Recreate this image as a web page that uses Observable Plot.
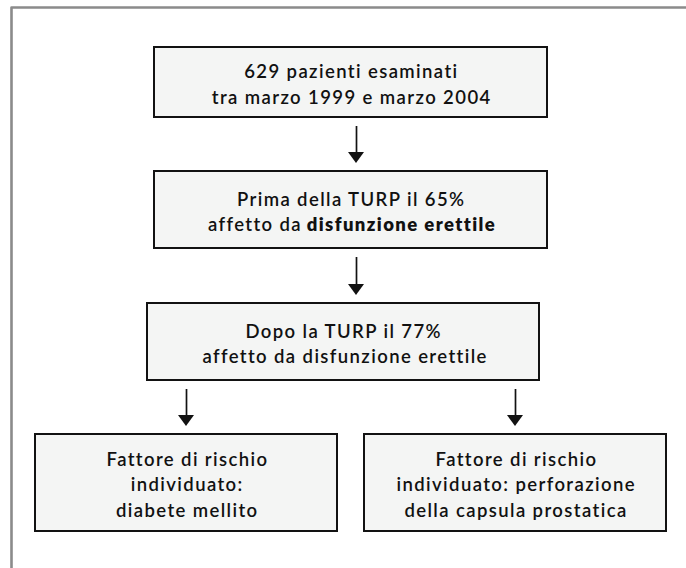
<!DOCTYPE html>
<html>
<head>
<meta charset="utf-8">
<script src="https://cdn.jsdelivr.net/npm/d3@7"></script>
<script src="https://cdn.jsdelivr.net/npm/@observablehq/plot@0.6"></script>
<style>
  html, body { margin: 0; padding: 0; background: #ffffff; }
  #chart svg { display: block; }
</style>
</head>
<body>
<div id="chart"></div>
<script>
// ---------------- DATA ----------------
// Flow-chart nodes: each line is a list of [text, isBold] segments
const nodeIds = ["screening", "beforeTURP", "afterTURP", "diabetes", "perforation"];
const nodeLines = [
  [[["629 pazienti esaminati", false]], [["tra marzo 1999 e marzo 2004", false]]],
  [[["Prima della TURP il 65%", false]], [["affetto da ", false], ["disfunzione erettile", true]]],
  [[["Dopo la TURP il 77%", false]], [["affetto da disfunzione erettile", false]]],
  [[["Fattore di rischio", false]], [["individuato:", false]], [["diabete mellito", false]]],
  [[["Fattore di rischio", false]], [["individuato: perforazione", false]], [["della capsula prostatica", false]]]
];
// Edges of the flow (from node index -> to node index)
const edgeFrom = [0, 1, 2, 2];
const edgeTo   = [1, 2, 3, 4];

// ---------------- LAYOUT (geometry & style, kept apart from data) ----------------
const W = 686, H = 568;
const boxX1 = [154, 154, 147, 35, 364];
const boxX2 = [547, 547, 539, 337, 666];
const boxY1 = [47, 171, 303, 434, 434];
const boxY2 = [117, 248, 380, 531, 531];
const arrowX = [356, 356, 186, 515];
const gapTop = 9, gapBottom = 8, headH = 11, headW = 16;
const frameLeft = 11, frameTop = 7;
const lineStep = 25.3, textShift = 2.5;
const fontFamily = "Lato, 'Open Sans', sans-serif";
const fontSize = 18.5;
const letterSp = 1.4;
const normalWeight = 600, boldWeight = 800;
const textColor = "#111111";

// ---------------- BUILD MARK DATA ----------------
const boxes = nodeIds.map((id, i) => ({id, x1: boxX1[i], x2: boxX2[i], y1: boxY1[i], y2: boxY2[i]}));

const ctx = document.createElement("canvas").getContext("2d");
function measure(str, bold) {
  ctx.font = `${bold ? boldWeight : normalWeight} ${fontSize}px ${fontFamily}`;
  return ctx.measureText(str).width + letterSp * str.length;
}

const segments = [];
nodeLines.forEach((lines, i) => {
  const cx = (boxX1[i] + boxX2[i]) / 2;
  const cy = (boxY1[i] + boxY2[i]) / 2 + textShift;
  const n = lines.length;
  lines.forEach((segs, j) => {
    const widths = segs.map(([t, b]) => measure(t, b));
    const total = d3.sum(widths) - letterSp;
    let x = cx - total / 2;
    const y = cy + (j - (n - 1) / 2) * lineStep;
    segs.forEach(([t, b], k) => {
      segments.push({text: t, bold: b, x, y});
      x += widths[k];
    });
  });
});

const shafts = edgeFrom.map((f, e) => ({
  x: arrowX[e],
  y1: boxY2[f] + gapTop,
  y2: boxY1[edgeTo[e]] - gapBottom - headH + 1
}));
const heads = [];
edgeFrom.forEach((f, e) => {
  const tip = boxY1[edgeTo[e]] - gapBottom;
  const ax = arrowX[e];
  heads.push({k: e, x: ax - headW / 2, y1: tip - headH, y2: tip - headH});
  heads.push({k: e, x: ax, y1: tip - headH, y2: tip});
  heads.push({k: e, x: ax + headW / 2, y1: tip - headH, y2: tip - headH});
});

const frame = [
  {x: frameLeft, y: H + 5},
  {x: frameLeft, y: frameTop},
  {x: W + 5, y: frameTop}
];

// ---------------- PLOT ----------------
const chart = Plot.plot({
  width: W,
  height: H,
  margin: 0,
  x: {domain: [0, W], range: [0, W], axis: null},
  y: {domain: [0, H], range: [0, H], axis: null},
  style: {background: "#ffffff", fontFamily, letterSpacing: `${letterSp}px`, overflow: "visible"},
  marks: [
    Plot.line(frame, {x: "x", y: "y", stroke: "#8b8b8b", strokeWidth: 2.6, curve: "linear"}),
    Plot.rect(boxes, {x1: "x1", x2: "x2", y1: "y1", y2: "y2", fill: "#f4f5f4", stroke: "#121212", strokeWidth: 2}),
    Plot.ruleX(shafts, {x: "x", y1: "y1", y2: "y2", stroke: "#121212", strokeWidth: 1.7}),
    Plot.areaY(heads, {x: "x", y1: "y1", y2: "y2", z: "k", fill: "#121212", curve: "linear"}),
    Plot.text(segments.filter(d => !d.bold), {x: "x", y: "y", text: "text", textAnchor: "start", fontSize, fontFamily, fill: textColor, fontWeight: normalWeight}),
    Plot.text(segments.filter(d => d.bold), {x: "x", y: "y", text: "text", textAnchor: "start", fontSize, fontFamily, fill: textColor, fontWeight: boldWeight})
  ]
});
document.getElementById("chart").appendChild(chart);
</script>
</body>
</html>
